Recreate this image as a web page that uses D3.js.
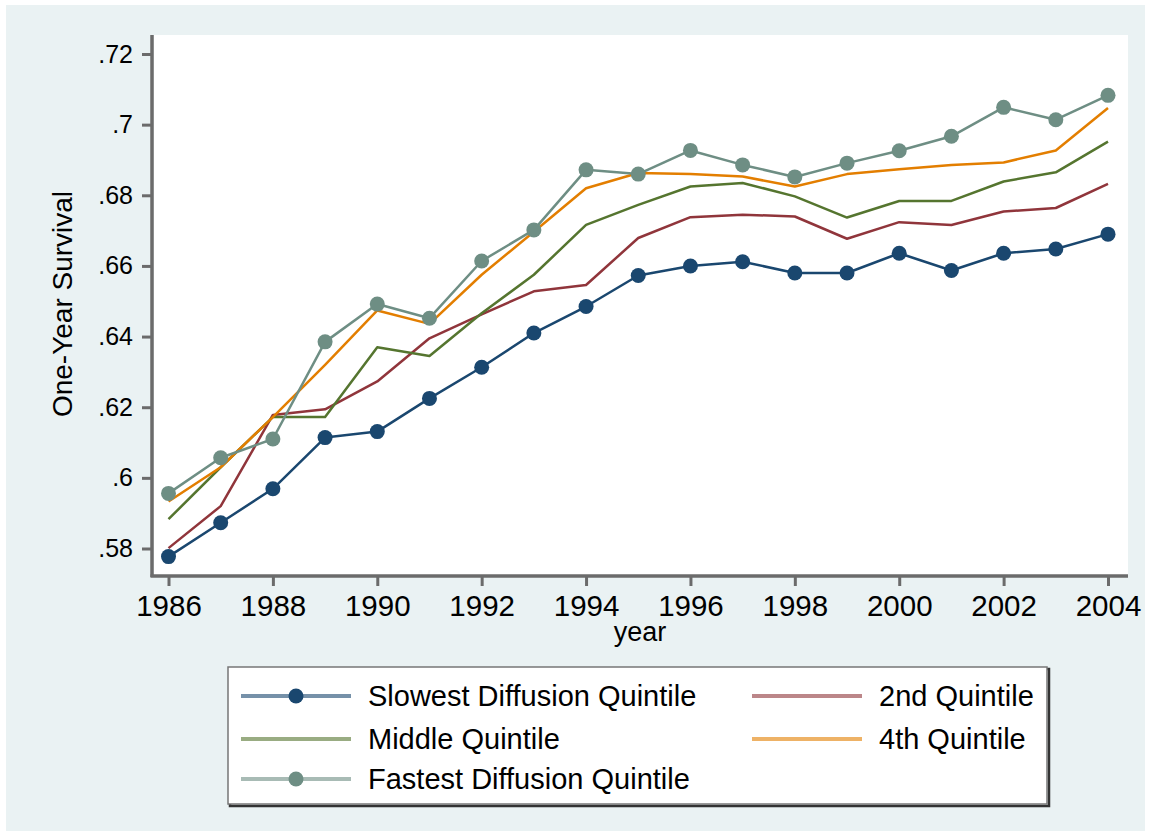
<!DOCTYPE html>
<html><head><meta charset="utf-8">
<script src="https://cdn.jsdelivr.net/npm/d3@7"></script>
<style>body{margin:0;background:#fff;}svg{display:block;}</style>
</head><body>
<svg id="c" width="1149" height="837"></svg>
<script>
const years = [1986,1987,1988,1989,1990,1991,1992,1993,1994,1995,1996,1997,1998,1999,2000,2001,2002,2003,2004];
const slowest = [.5777,.5873,.5969,.6114,.6131,.6225,.6313,.6410,.6485,.6573,.6600,.6612,.6580,.6580,.6636,.6587,.6636,.6648,.6690];
const second  = [.5801,.5920,.6178,.6194,.6273,.6395,.6463,.6528,.6546,.6679,.6738,.6745,.6740,.6677,.6724,.6716,.6754,.6764,.6832];
const middle  = [.5883,.6030,.6172,.6172,.6370,.6345,.6466,.6575,.6716,.6773,.6825,.6835,.6797,.6737,.6784,.6784,.6839,.6865,.6952];
const fourth  = [.5933,.6030,.6172,.6320,.6474,.6436,.6575,.6697,.6820,.6863,.6860,.6853,.6825,.6860,.6874,.6886,.6893,.6927,.7047];
const fastest = [.5956,.6057,.6110,.6385,.6492,.6452,.6614,.6702,.6872,.6860,.6927,.6886,.6852,.6891,.6926,.6967,.7049,.7014,.7083];
const yTicks = [.58,.60,.62,.64,.66,.68,.70,.72];
const yTickLabels = [".58",".6",".62",".64",".66",".68",".7",".72"];
const xTicks = [1986,1988,1990,1992,1994,1996,1998,2000,2002,2004];
const seriesNames = ["Slowest Diffusion Quintile","2nd Quintile","Middle Quintile","4th Quintile","Fastest Diffusion Quintile"];
const seriesColors = ["#1a476f","#90353b","#55752f","#e37e00","#6e8e84"];
const seriesMarkers = [true,false,false,false,true];
const seriesValues = [slowest, second, middle, fourth, fastest];

const svg = d3.select("#c");
const FONT = "'Liberation Sans', Arial, Helvetica, sans-serif";

// background
svg.append("rect").attr("x",0).attr("y",0).attr("width",1149).attr("height",837).attr("fill","#ffffff");
svg.append("rect").attr("x",6).attr("y",5).attr("width",1139).attr("height",826).attr("fill","#eaf2f3");

// plot region
const pl = 154, pr = 1128, pt = 35, pb = 575;
svg.append("rect").attr("x",pl).attr("y",pt).attr("width",pr-pl).attr("height",pb-pt).attr("fill","#ffffff");

const x = d3.scaleLinear().domain([1986,2004]).range([168.5,1108]);
const y = d3.scaleLinear().domain([0.58,0.72]).range([548.5,54]);

// axes
const axisColor = "#6b6b6b";
const yAxis = svg.append("g").attr("transform",`translate(${pl-2},0)`)
  .call(d3.axisLeft(y).tickValues(yTicks).tickFormat((d,i)=>yTickLabels[i]).tickSize(10).tickPadding(9));
yAxis.select(".domain").remove();
yAxis.append("line").attr("x1",0).attr("x2",0).attr("y1",pt).attr("y2",pb+2).attr("stroke",axisColor).attr("stroke-width",3.5);
yAxis.selectAll(".tick line").attr("stroke",axisColor).attr("stroke-width",3);
yAxis.selectAll(".tick text").attr("font-family",FONT).attr("font-size",25).attr("fill","#000");

const xAxis = svg.append("g").attr("transform",`translate(0,${pb+1})`)
  .call(d3.axisBottom(x).tickValues(xTicks).tickFormat(d3.format("d")).tickSize(10).tickPadding(9));
xAxis.select(".domain").remove();
xAxis.append("line").attr("x1",pl-3.5).attr("x2",pr).attr("y1",0).attr("y2",0).attr("stroke",axisColor).attr("stroke-width",3.5);
xAxis.selectAll(".tick line").attr("stroke",axisColor).attr("stroke-width",3);
xAxis.selectAll(".tick text").attr("font-family",FONT).attr("font-size",29.5).attr("fill","#000");

// axis titles
svg.append("text").attr("x",640).attr("y",641).attr("text-anchor","middle")
  .attr("font-family",FONT).attr("font-size",27).text("year");
svg.append("text").attr("transform","translate(72,304) rotate(-90)").attr("text-anchor","middle")
  .attr("font-family",FONT).attr("font-size",28).text("One-Year Survival");

// series
const line = d3.line().x((d,i)=>x(years[i])).y(d=>y(d));
seriesValues.forEach((vals,k)=>{
  svg.append("path").datum(vals).attr("d",line).attr("fill","none")
    .attr("stroke",seriesColors[k]).attr("stroke-width",2.5).attr("stroke-linejoin","round");
  if (seriesMarkers[k]) {
    svg.append("g").selectAll("circle").data(vals).join("circle")
      .attr("cx",(d,i)=>x(years[i])).attr("cy",d=>y(d)).attr("r",7.5).attr("fill",seriesColors[k]);
  }
});

// legend
const lg = svg.append("g");
lg.append("rect").attr("x",230).attr("y",669).attr("width",819).attr("height",137).attr("fill","none").attr("stroke","#333").attr("stroke-width",2.5);
lg.append("rect").attr("x",228).attr("y",667).attr("width",819).attr("height",137).attr("fill","#ffffff").attr("stroke","#777").attr("stroke-width",1.5);
const legPos = [[241,696],[752,696],[241,739],[752,739],[241,779]];
seriesNames.forEach((name,k)=>{
  const [lx,ly] = legPos[k];
  lg.append("line").attr("x1",lx).attr("x2",lx+110).attr("y1",ly).attr("y2",ly)
    .attr("stroke",seriesColors[k]).attr("stroke-width",4).attr("stroke-opacity",0.6);
  if (seriesMarkers[k]) lg.append("circle").attr("cx",lx+55).attr("cy",ly).attr("r",7.5).attr("fill",seriesColors[k]);
  lg.append("text").attr("x",lx+127).attr("y",ly+10).attr("font-family",FONT).attr("font-size",29).text(name);
});
</script>
</body></html>
